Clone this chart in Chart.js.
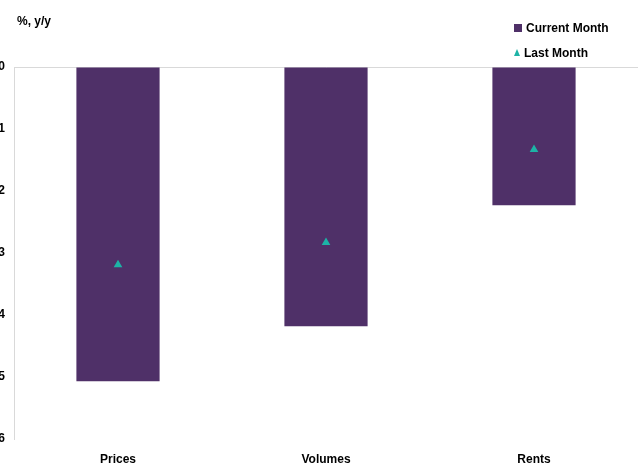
<!DOCTYPE html>
<html>
<head>
<meta charset="utf-8">
<script src="https://cdn.jsdelivr.net/npm/chart.js@4"></script>
<style>
  html, body { margin: 0; padding: 0; background: #fff; overflow: hidden; }
  body { width: 643px; height: 466px; position: relative; font-family: "Liberation Sans", Arial, sans-serif; }
  #wrap { position: absolute; left: -30px; top: 0; width: 673px; height: 466px; }
  #titulo { position: absolute; left: 17px; top: 14px; font-size: 12px; font-weight: bold; color: #000; }
  #legenda { position: absolute; left: 514px; top: 15px; font-size: 12px; font-weight: bold; color: #000; }
  #legenda div { height: 25px; line-height: 16px; display: flex; align-items: center; }
  #legenda div span.m { display: inline-block; width: 8px; margin-right: 4px; }
</style>
</head>
<body>
<div id="wrap"><canvas id="grafico"></canvas></div>
<div id="titulo">%, y/y</div>
<div id="legenda"></div>
<script>
// dados
const categorias = ["Prices", "Volumes", "Rents"];
const mesAtual = [-5.07, -4.18, -2.23];
const mesPassado = [-3.19, -2.83, -1.33];
const yTicks = [0, -1, -2, -3, -4, -5, -6];

const roxo = '#4f3068';
const verde = '#1db3a6';

const ctx = document.getElementById('grafico').getContext('2d');

const chart = new Chart(ctx, {
  data: {
    labels: categorias,
    datasets: [
      {
        type: 'line',
        label: 'Last Month',
        data: mesPassado,
        showLine: false,
        pointStyle: 'triangle',
        pointRadius: 5,
        backgroundColor: verde,
        borderColor: verde,
        borderWidth: 0
      },
      {
        type: 'bar',
        label: 'Current Month',
        data: mesAtual,
        backgroundColor: roxo,
        categoryPercentage: 1,
        barPercentage: 0.4
      }
    ]
  },
  options: {
    responsive: true,
    maintainAspectRatio: false,
    animation: false,
    layout: { padding: { top: 67, right: 0, bottom: 0, left: 0 } },
    plugins: { legend: { display: false }, tooltip: { enabled: false } },
    scales: {
      x: {
        afterFit: s => { s.height = 27; },
        grid: { display: false },
        border: { display: false },
        ticks: { color: '#000', font: { family: 'Liberation Sans', size: 12, weight: 'bold' }, padding: 5 }
      },
      y: {
        min: -6, max: 0,
        afterFit: s => { s.width = 44; },
        afterBuildTicks: s => { s.ticks = yTicks.map(v => ({ value: v })); },
        grid: {
          drawTicks: false,
          color: c => c.tick && c.tick.value === 0 ? '#d9d9d9' : 'rgba(0,0,0,0)'
        },
        border: { color: '#d9d9d9' },
        ticks: { color: '#000', font: { family: 'Liberation Sans', size: 12, weight: 'bold' }, padding: 9 }
      }
    }
  }
});

// legenda em html, na ordem do original
const leg = document.getElementById('legenda');
[chart.data.datasets[1], chart.data.datasets[0]].forEach(ds => {
  const d = document.createElement('div');
  const m = document.createElement('span');
  m.className = 'm';
  if (ds.type === 'bar') {
    m.style.height = '8px';
    m.style.background = ds.backgroundColor;
  } else {
    m.style.height = '0';
    m.style.width = '0';
    m.style.borderLeft = '3.5px solid transparent';
    m.style.borderRight = '3.5px solid transparent';
    m.style.borderBottom = '7px solid ' + ds.backgroundColor;
  }
  d.appendChild(m);
  d.appendChild(document.createTextNode(ds.label));
  leg.appendChild(d);
});
</script>
</body>
</html>
